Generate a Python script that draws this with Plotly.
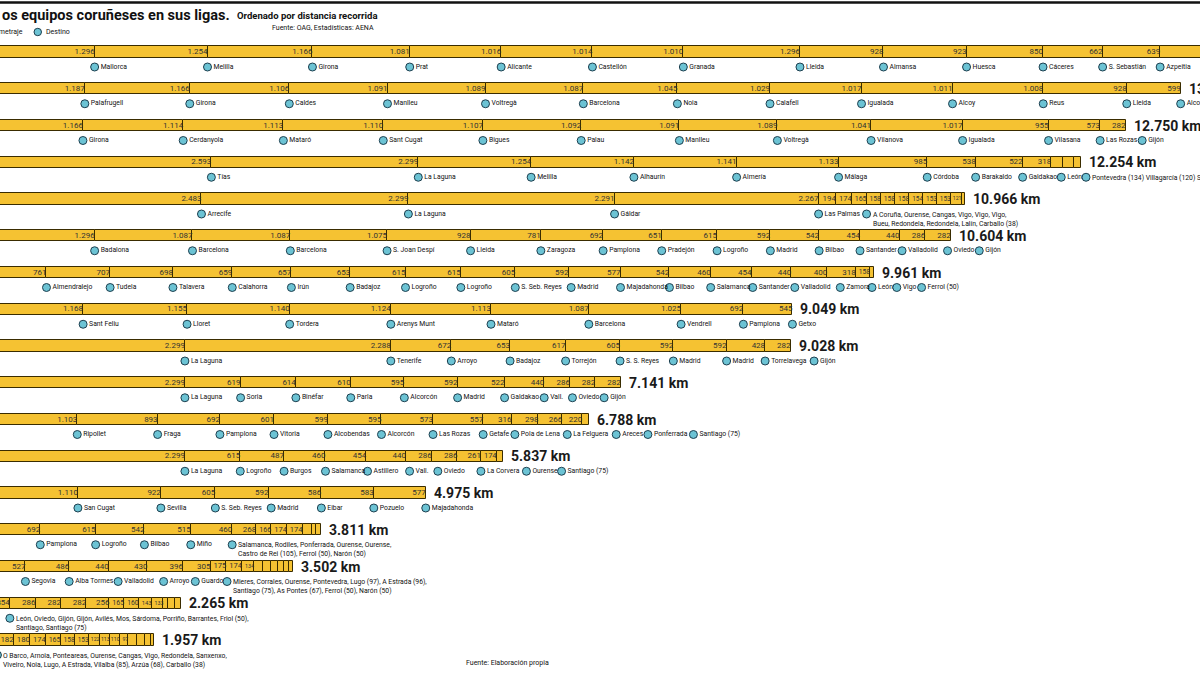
import plotly.graph_objects as go

# ---------------- data ----------------
r01_km = [1296, 1254, 1166, 1081, 1016, 1014, 1010, 1296, 928, 923, 850, 662, 639, 609, 592]
r01_dest = ["Mallorca", "Melilla", "Girona", "Prat", "Alicante", "Castellón", "Granada", "Lleida", "Almansa",
            "Huesca", "Cáceres", "S. Sebastián", "Azpeitia", "Madrid", "Alcobendas"]
r02_km = [1187, 1166, 1106, 1091, 1089, 1087, 1045, 1029, 1017, 1011, 1008, 928, 599]
r02_dest = ["Palafrugell", "Girona", "Caldes", "Manlleu", "Voltregà", "Barcelona", "Noia", "Calafell",
            "Igualada", "Alcoy", "Reus", "Lleida", "Alcobendas"]
r03_km = [1166, 1114, 1113, 1110, 1107, 1092, 1091, 1089, 1041, 1017, 955, 573, 282]
r03_dest = ["Girona", "Cerdanyola", "Mataró", "Sant Cugat", "Bigues", "Palau", "Manlleu", "Voltregà",
            "Vilanova", "Igualada", "Vilasana", "Las Rozas", "Gijón"]
r04_km = [2593, 2299, 1254, 1142, 1141, 1133, 985, 538, 522, 318, 134, 120, 75]
r04_dest = ["Tías", "La Laguna", "Melilla", "Alhaurín", "Almería", "Málaga", "Córdoba", "Barakaldo",
            "Galdakao", "León", "", "", ""]
r05_km = [2483, 2299, 2291, 2267, 194, 174, 165, 158, 158, 158, 154, 153, 153, 121, 38]
r05_dest = ["Arrecife", "La Laguna", "Gáldar", "Las Palmas"] + [""] * 11
r06_km = [1296, 1087, 1087, 1075, 928, 781, 692, 651, 615, 592, 542, 454, 440, 286, 282]
r06_dest = ["Badalona", "Barcelona", "Barcelona", "S. Joan Despí", "Lleida", "Zaragoza", "Pamplona",
            "Pradejón", "Logroño", "Madrid", "Bilbao", "Santander", "Valladolid", "Oviedo", "Gijón"]
r07_km = [761, 707, 698, 659, 657, 653, 615, 615, 605, 592, 577, 542, 460, 454, 440, 400, 318, 158, 50]
r07_dest = ["Almendralejo", "Tudela", "Talavera", "Calahorra", "Irún", "Badajoz", "Logroño", "Logroño",
            "S. Seb. Reyes", "Madrid", "Majadahonda", "Bilbao", "Salamanca", "Santander", "Valladolid",
            "Zamora", "León", "Vigo", "Ferrol (50)"]
r08_km = [1168, 1155, 1140, 1124, 1113, 1087, 1025, 692, 545]
r08_dest = ["Sant Feliu", "Lloret", "Tordera", "Arenys Munt", "Mataró", "Barcelona", "Vendrell",
            "Pamplona", "Getxo"]
r09_km = [2299, 2288, 672, 653, 617, 605, 592, 592, 428, 282]
r09_dest = ["La Laguna", "Tenerife", "Arroyo", "Badajoz", "Torrejón", "S. S. Reyes", "Madrid", "Madrid",
            "Torrelavega", "Gijón"]
r10_km = [2299, 619, 614, 610, 595, 592, 522, 440, 286, 282, 282]
r10_dest = ["La Laguna", "Soria", "Binéfar", "Parla", "Alcorcón", "Madrid", "Galdakao", "Vall.", "Oviedo",
            "Gijón", ""]
r11_km = [1103, 893, 692, 601, 599, 595, 573, 557, 316, 298, 266, 220, 75]
r11_dest = ["Ripollet", "Fraga", "Pamplona", "Vitoria", "Alcobendas", "Alcorcón", "Las Rozas", "Getafe",
            "Pola de Lena", "La Felguera", "Areces", "Ponferrada", "Santiago (75)"]
r12_km = [2299, 615, 487, 460, 454, 440, 286, 286, 261, 174, 75]
r12_dest = ["La Laguna", "Logroño", "Burgos", "Salamanca", "Astillero", "Vall.", "Oviedo", "",
            "La Corvera", "Ourense", "Santiago (75)"]
r13_km = [1110, 922, 605, 592, 586, 583, 577]
r13_dest = ["San Cugat", "Sevilla", "S. Seb. Reyes", "Madrid", "Eibar", "Pozuelo", "Majadahonda"]
r14_km = [692, 615, 542, 515, 460, 268, 166, 174, 174, 105, 50, 50]
r14_dest = ["Pamplona", "Logroño", "Bilbao", "Miño"] + [""] * 8
r15_km = [527, 486, 440, 430, 396, 305, 175, 174, 134, 97, 96, 75, 67, 50, 50]
r15_dest = ["Segovia", "Alba Tormes", "Valladolid", "Arroyo", "Guardo"] + [""] * 10
r16_km = [354, 286, 282, 282, 256, 165, 160, 143, 133, 50, 75, 75]
r16_dest = [""] * 12
r17_km = [216, 182, 180, 174, 165, 158, 153, 122, 113, 110, 97, 96, 85, 68, 38]
r17_dest = [""] * 15

totals = ["", "13.363 km", "12.750 km", "12.254 km", "10.966 km", "10.604 km", "9.961 km", "9.049 km",
          "9.028 km", "7.141 km", "6.788 km", "5.837 km", "4.975 km", "3.811 km", "3.502 km",
          "2.265 km", "1.957 km"]
# how many segments of each row carry their distance label
labeled = [15, 13, 13, 10, 14, 15, 18, 9, 10, 11, 12, 10, 7, 9, 9, 9, 11]
# grouped destinations: index of the segment where the shared marker sits
group_at = [None, None, None, 12, 6, None, None, None, None, None, None, None, None, 4, 5, 0, 0]
group_text = ["", "", "", "Pontevedra (134) Villagarcía (120) Santiago (75)",
              "A Coruña, Ourense, Cangas, Vigo, Vigo, Vigo,<br>Bueu, Redondela, Redondela, Lalín, Carballo (38)",
              "", "", "", "", "", "", "", "",
              "Salamanca, Rodiles, Ponferrada, Ourense, Ourense,<br>Castro de Rei (105), Ferrol (50), Narón (50)",
              "Mieres, Corrales, Ourense, Pontevedra, Lugo (97), A Estrada (96),<br>Santiago (75), As Pontes (67), Ferrol (50), Narón (50)",
              "León, Oviedo, Gijón, Gijón, Avilés, Mos, Sárdoma, Porriño, Barrantes, Friol (50),<br>Santiago, Santiago (75)",
              "O Barco, Arnoia, Ponteareas, Ourense, Cangas, Vigo, Redondela, Sanxenxo,<br>Viveiro, Noia, Lugo, A Estrada, Vilalba (85), Arzúa (68), Carballo (38)"]

rows_km = [r01_km, r02_km, r03_km, r04_km, r05_km, r06_km, r07_km, r08_km, r09_km, r10_km,
           r11_km, r12_km, r13_km, r14_km, r15_km, r16_km, r17_km]
rows_dest = [r01_dest, r02_dest, r03_dest, r04_dest, r05_dest, r06_dest, r07_dest, r08_dest, r09_dest,
             r10_dest, r11_dest, r12_dest, r13_dest, r14_dest, r15_dest, r16_dest, r17_dest]

# ---------------- layout constants ----------------
W, H = 1200, 675
PX_PER_KM = 0.09
X0_PX = -22
ROW0_PX, ROW_DY = 52, 36.75
YEL = "#F5C232"
BLUE = "#6CC3D4"
FONT = "Roboto, sans-serif"
NAME_SIZE = 6.8
LAB_SIZE = 8
CHAR_W = 3.45          # estimated width of one character of a destination name
DOT_W = 11             # marker + gap before its name
DOT_DY = 15 / ROW_DY
XMIN_KM = (0 - X0_PX) / PX_PER_KM
XMAX_KM = (W - X0_PX) / PX_PER_KM


def fmt(v):
    return f"{v:,}".replace(",", ".")


def to_px(km):
    return X0_PX + km * PX_PER_KM


def to_km(px):
    return (px - X0_PX) / PX_PER_KM


def label_size(v, txt):
    # shrink the distance label so it fits inside its segment
    em = sum(0.56 if ch.isdigit() else 0.26 for ch in txt)
    avail = v * PX_PER_KM - 3
    return max(5.2, min(LAB_SIZE, avail / em))


fig = go.Figure()

ys, xs, bases = [], [], []
lab_x, lab_y, lab_t, lab_s = [], [], [], []
dot_x, dot_y, dot_t = [], [], []
annotations = []
for i, (km, dest) in enumerate(zip(rows_km, rows_dest)):
    c = 0
    ends = []
    for j, v in enumerate(km):
        ys.append(i)
        xs.append(v)
        bases.append(c)
        c += v
        ends.append(c)
        if j < labeled[i]:
            t = fmt(v)
            lab_x.append(c)
            lab_y.append(i)
            lab_t.append(t)
            lab_s.append(label_size(v, t))
    # markers in this row, pushed right when names would collide
    marks = []
    for j, name in enumerate(dest):
        if name:
            marks.append((ends[j], name, False))
        if group_at[i] == j:
            marks.append((ends[j], group_text[i].split("<br>")[0], True))
    prev_right = -1e9
    for x_km, name, is_group in marks:
        px = max(to_px(x_km), prev_right)
        prev_right = px + DOT_W + len(name) * CHAR_W
        xk = to_km(px)
        dot_x.append(xk)
        dot_y.append(i + DOT_DY)
        dot_t.append("" if is_group else name)
        if is_group:
            xa = max(xk, XMIN_KM + 1)
            annotations.append(dict(x=xa, y=i + DOT_DY, xref="x", yref="y", text=group_text[i],
                                    showarrow=False, xanchor="left", yanchor="top", yshift=5.5,
                                    xshift=4 + (xk - xa) * PX_PER_KM, align="left",
                                    font=dict(family=FONT, size=NAME_SIZE, color="#111")))
    if totals[i]:
        annotations.append(dict(x=c, y=i, xref="x", yref="y", text="<b>" + totals[i] + "</b>",
                                showarrow=False, xanchor="left", yanchor="middle", xshift=6,
                                font=dict(family=FONT, size=14, color="#1a1a1a")))

fig.add_trace(go.Bar(orientation="h", y=ys, x=xs, base=bases, width=0.3,
                     marker=dict(color=YEL, line=dict(color="#3a2c00", width=1)),
                     hoverinfo="skip", showlegend=False))
fig.add_trace(go.Scatter(x=lab_x, y=lab_y, mode="text", text=lab_t, textposition="middle left",
                         textfont=dict(family=FONT, size=lab_s, color="#333"),
                         hoverinfo="skip", showlegend=False))
fig.add_trace(go.Scatter(x=dot_x, y=dot_y, mode="markers+text", text=dot_t, textposition="middle right",
                         marker=dict(size=8, color=BLUE, line=dict(color="#1d3f4f", width=1)),
                         textfont=dict(family=FONT, size=NAME_SIZE, color="#111"),
                         hoverinfo="skip", showlegend=False))


# header / footer texts in paper coordinates
def py(p):
    return 1 - p / H


annotations += [
    dict(x=0, y=py(15), xref="paper", yref="paper", xanchor="left", yanchor="middle", showarrow=False,
         text="<b>os equipos coruñeses en sus ligas.</b>", font=dict(family=FONT, size=14.5, color="#111")),
    dict(x=235 / W, y=py(16), xref="paper", yref="paper", xanchor="left", yanchor="middle", showarrow=False,
         text="<b>Ordenado por distancia recorrida</b>", font=dict(family=FONT, size=9.5, color="#111")),
    dict(x=270 / W, y=py(28), xref="paper", yref="paper", xanchor="left", yanchor="middle", showarrow=False,
         text="Fuente: OAG, Estadísticas: AENA", font=dict(family=FONT, size=7, color="#111")),
    dict(x=25 / W, y=py(32), xref="paper", yref="paper", xanchor="right", yanchor="middle", showarrow=False,
         text="Kilometraje", font=dict(family=FONT, size=7, color="#111")),
    dict(x=44 / W, y=py(32), xref="paper", yref="paper", xanchor="left", yanchor="middle", showarrow=False,
         text="Destino", font=dict(family=FONT, size=7, color="#111")),
    dict(x=464 / W, y=py(663), xref="paper", yref="paper", xanchor="left", yanchor="middle", showarrow=False,
         text="Fuente: Elaboración propia", font=dict(family=FONT, size=7, color="#111")),
]

shapes = [
    dict(type="line", xref="paper", yref="paper", x0=0, x1=1, y0=py(2.5), y1=py(2.5),
         line=dict(color="#111", width=2.5)),
    dict(type="circle", xref="paper", yref="paper", x0=34 / W, x1=41.5 / W, y0=py(35.7), y1=py(28.3),
         fillcolor=BLUE, line=dict(color="#1d3f4f", width=1)),
]

fig.update_layout(
    width=W, height=H, margin=dict(l=0, r=0, t=0, b=0),
    paper_bgcolor="white", plot_bgcolor="white",
    xaxis=dict(range=[XMIN_KM, XMAX_KM], visible=False, fixedrange=True),
    yaxis=dict(type="linear", range=[(H - ROW0_PX) / ROW_DY, (0 - ROW0_PX) / ROW_DY], visible=False,
               fixedrange=True),
    annotations=annotations, shapes=shapes, bargap=0, showlegend=False,
)

fig.write_html("out.html")
